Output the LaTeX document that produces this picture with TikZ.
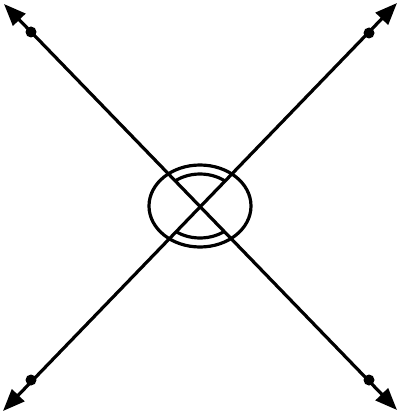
\documentclass[tikz,border=0pt]{standalone}
\usetikzlibrary{arrows.meta}
\begin{document}
\begin{tikzpicture}[x=1pt,y=-1pt,
  ray/.style={line width=3.2pt,{Triangle[length=22pt,width=17pt]}-{Triangle[length=22pt,width=17pt]}},
  arcline/.style={line width=3.2pt},
  ptdot/.style={fill=black}]
\useasboundingbox (0,0) rectangle (400,414);
\coordinate (tl) at (4,4);
\coordinate (br) at (397,410);
\coordinate (tr) at (397,3);
\coordinate (bl) at (3,411);
\coordinate (O) at (200,206);
\coordinate (d1) at (31,32);
\coordinate (d2) at (369,33);
\coordinate (d3) at (31,380);
\coordinate (d4) at (369,380);
\draw[ray] (tl) -- (br);
\draw[ray] (tr) -- (bl);
\fill[ptdot] (d1) circle (5.5);
\fill[ptdot] (d2) circle (5.5);
\fill[ptdot] (d3) circle (5.5);
\fill[ptdot] (d4) circle (5.5);
\draw[arcline] (O) ellipse [x radius=51, y radius=41];
\begin{scope}
\clip (O) -- (tl) -- (tr) -- cycle (O) -- (bl) -- (br) -- cycle;
\draw[arcline] (O) ellipse [x radius=40, y radius=32];
\end{scope}
\end{tikzpicture}
\end{document}
